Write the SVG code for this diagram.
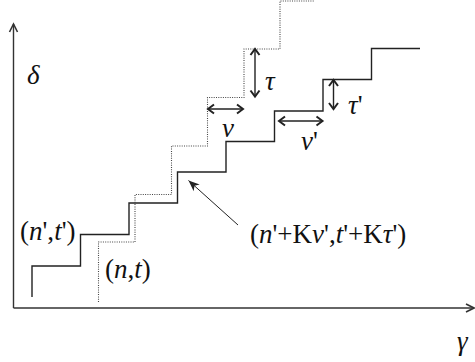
<svg xmlns="http://www.w3.org/2000/svg" width="475" height="362" viewBox="0 0 475 362">
<defs>
<style>
.ax{fill:none;stroke:#333;stroke-width:1.4}
.st{fill:none;stroke:#222;stroke-width:1.4}
.dt{fill:none;stroke:#444;stroke-width:1.1;stroke-dasharray:1 1.3}
.dim{fill:none;stroke:#222;stroke-width:1.4;marker-start:url(#chev);marker-end:url(#chev)}
.ld{fill:none;stroke:#222;stroke-width:1;marker-end:url(#barb)}
.lbl{font-family:'Liberation Serif','DejaVu Serif',serif;font-size:27px;fill:#111}
.i{font-style:italic}
</style>
<marker id="chev" markerUnits="userSpaceOnUse" markerWidth="14" markerHeight="14" refX="0" refY="0" orient="auto-start-reverse" overflow="visible">
<path d="M-6,-4.5 L0,0 L-6,4.5" fill="none" stroke="#222" stroke-width="2"/>
</marker>
<marker id="axa" markerUnits="userSpaceOnUse" markerWidth="14" markerHeight="14" refX="0" refY="0" orient="auto" overflow="visible">
<path d="M-8,-4 L0,0 L-8,4" fill="none" stroke="#333" stroke-width="1.6"/>
</marker>
<marker id="barb" markerUnits="userSpaceOnUse" markerWidth="14" markerHeight="14" refX="0" refY="0" orient="auto" overflow="visible">
<path d="M0,0 L-11,-4.5 L-8,0 L-11,4.5 Z" fill="#222"/>
</marker>
</defs>
<g id="axes">
<path class="ax" d="M13.5,308 L13.5,24" marker-end="url(#axa)"/>
<path class="ax" d="M13.5,308 L474,308" marker-end="url(#axa)"/>
</g>
<g id="staircase-solid">
<polyline class="st" points="32,297 32,266 80.5,266 80.5,234.5 129,234.5 129,203 177.5,203 177.5,172 226,172 226,141.5 274.5,141.5 274.5,111 323,111 323,79.5 371.5,79.5 371.5,48.5 420,48.5"/>
</g>
<g id="staircase-dotted">
<polyline class="dt" points="98.5,302 98.5,242 135,242 135,194.5 171.5,194.5 171.5,146 207.5,146 207.5,97.5 244,97.5 244,49 280,49 280,1 315,1"/>
</g>
<g id="connectors">
<line class="dim" x1="208" y1="109" x2="243" y2="109"/>
<line class="dim" x1="255" y1="49" x2="255" y2="96.5"/>
<line class="dim" x1="279" y1="121" x2="322.5" y2="121"/>
<line class="dim" x1="333.5" y1="80" x2="333.5" y2="109"/>
<line class="ld" x1="238" y1="225" x2="188.5" y2="180.5"/>
</g>
<g class="lbl" font-family="Liberation Serif, DejaVu Serif, serif" font-size="27">
<g id="label-delta"><text class="i" x="27" y="84">δ</text></g>
<g id="label-gamma"><text class="i" x="457" y="350">γ</text></g>
<g id="label-nu"><text class="i" x="222" y="137">ν</text></g>
<g id="label-tau"><text class="i" x="265" y="90">τ</text></g>
<g id="label-nu-prime"><text x="301" y="150"><tspan class="i">ν</tspan>'</text></g>
<g id="label-tau-prime"><text x="348" y="114"><tspan class="i">τ</tspan>'</text></g>
<g id="label-np-tp"><text x="20" y="240">(<tspan class="i">n</tspan>',<tspan class="i">t</tspan>')</text></g>
<g id="label-n-t"><text x="105" y="278">(<tspan class="i">n</tspan>,<tspan class="i">t</tspan>)</text></g>
<g id="label-shift"><text x="250" y="243">(<tspan class="i">n</tspan>'+K<tspan class="i">ν</tspan>',<tspan class="i">t</tspan>'+K<tspan class="i">τ</tspan>')</text></g>
</g>
</svg>
